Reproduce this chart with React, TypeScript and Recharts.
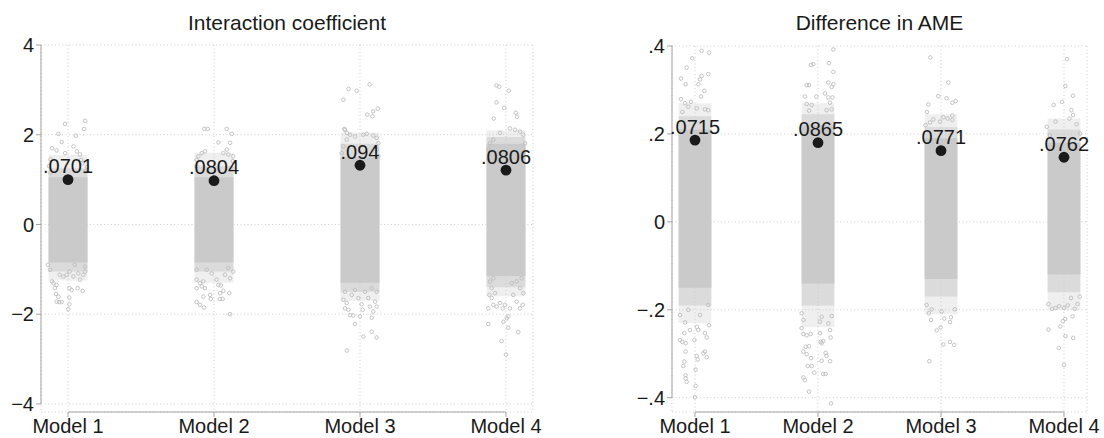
import { ScatterChart, Scatter, XAxis, YAxis, CartesianGrid, ReferenceArea, ReferenceLine, LabelList } from "recharts";

type Pt = [number, number];

const models = ["Model 1", "Model 2", "Model 3", "Model 4"];

// left panel: interaction coefficient
const coefLabels = [".0701", ".0804", ".094", ".0806"];
const coefEstimates = [1.0, 0.975, 1.32, 1.21];
// dense middle of each cloud, then the thinner bands around it
const coefCoreLow = [-0.85, -0.85, -1.3, -1.15];
const coefCoreHigh = [1.05, 1.05, 1.5, 1.8];
const coefMidLow = [-1.05, -1.05, -1.5, -1.4];
const coefMidHigh = [1.25, 1.3, 1.8, 1.95];
const coefSpreadLow = [-1.25, -1.3, -1.7, -1.6];
const coefSpreadHigh = [1.55, 1.6, 2.05, 2.1];
const coefYTicks = [-4, -2, 0, 2, 4];

const coefDraws1: Pt[] = [
  [-0.02, 2.24], [0.117, 2.31], [0.11, 2.13], [-0.066, 2.02], [0.053, 1.98], [-0.043, 1.84], [-0.11, 1.7], [-0.078, 1.65],
  [0.037, 1.74], [0.06, 1.63], [0.082, 1.56], [-0.02, 1.59], [0.09, 1.44], [0.1, 1.37], [-0.12, 1.45], [-0.13, 1.3],
  [0.13, 1.28], [0.12, 1.18], [-0.12, 1.15],
  [-0.123, -1.01], [-0.11, -1.27], [-0.1, -1.31], [-0.078, -1.35], [-0.09, -1.42], [-0.082, -1.55], [-0.066, -1.61],
  [-0.078, -1.72], [-0.06, -1.73], [-0.043, -1.73], [0.009, -1.63], [0.009, -1.78], [0.002, -1.89], [0.009, -1.42],
  [0.025, -1.46], [0.066, -1.42], [0.1, -1.48], [-0.032, -1.16], [-0.009, -1.12], [0.037, -1.16], [0.082, -1.23],
  [0.105, -1.12], [-0.057, -1.12], [0.07, -1.09], [0.011, -1.05], [0.117, -0.94], [-0.137, -0.9], [0.117, -1.05], [0.046, -0.9],
];
const coefDraws2: Pt[] = [
  [-0.066, 2.13], [-0.043, 2.13], [0.087, 2.13], [0.121, 2.02], [0.03, 1.83], [0.11, 1.82], [-0.084, 1.59], [-0.062, 1.63],
  [-0.107, 1.52], [0.087, 1.67], [0.064, 1.59], [0.132, 1.52], [0.098, 1.56], [-0.119, 1.44], [0.13, 1.41], [-0.12, 1.3], [0.125, 1.25],
  [-0.119, -1.01], [-0.119, -1.23], [-0.096, -1.31], [-0.073, -1.27], [-0.119, -1.42], [-0.084, -1.38], [-0.062, -1.42],
  [-0.073, -1.61], [-0.027, -1.57], [-0.023, -1.66], [-0.119, -1.73], [-0.096, -1.79], [-0.068, -1.85], [0.018, -1.23],
  [0.03, -1.35], [0.046, -1.36], [0.041, -1.53], [0.064, -1.48], [0.105, -1.53], [0.041, -1.66], [0.059, -1.66], [0.11, -2.0],
  [0.075, -1.12], [0.11, -1.2], [-0.016, -1.09], [-0.05, -1.01], [0.098, -0.97], [0.132, -1.05],
];
const coefDraws3: Pt[] = [
  [-0.114, 2.78], [-0.078, 3.02], [-0.023, 2.98], [0.066, 3.12], [0.05, 2.45], [0.09, 2.52], [0.122, 2.58], [0.086, 2.41],
  [-0.107, 2.13], [-0.09, 2.04], [-0.103, 2.11], [-0.068, 2.0], [-0.034, 1.96], [0.023, 2.0], [0.046, 2.02], [0.091, 1.98],
  [0.114, 1.93], [-0.091, 1.89], [0.126, 1.81], [-0.114, 1.74], [0.114, 1.67], [-0.126, 1.59], [0.126, 1.52],
  [-0.114, -1.68], [-0.091, -1.75], [-0.103, -1.87], [-0.08, -1.9], [-0.068, -2.02], [-0.046, -2.03], [-0.034, -2.22],
  [0, -2.05], [0.018, -1.9], [0.011, -1.78], [0.023, -2.5], [0.08, -2.39], [0.114, -2.52], [0.08, -2.08], [0.091, -1.94],
  [0.114, -1.83], [0.068, -1.83], [0.103, -1.72], [0.057, -1.64], [-0.011, -1.64], [-0.057, -1.57], [-0.103, -1.5],
  [0.114, -1.5], [0.034, -1.5], [-0.034, -1.46], [0.08, -1.42], [-0.09, -2.81],
];
const coefDraws4: Pt[] = [
  [-0.065, 3.1], [-0.046, 3.07], [0.019, 2.98], [-0.065, 2.72], [-0.012, 2.6], [0.067, 2.49], [0.075, 2.4], [-0.084, 2.36],
  [-0.041, 2.04], [0.027, 2.14], [0.062, 2.11], [0.096, 2.07], [0.119, 2.0], [-0.087, 1.89], [-0.11, 1.81], [-0.121, 1.67],
  [0.13, 1.81], [0.119, 1.59], [-0.121, 1.44],
  [-0.114, -1.57], [-0.098, -1.64], [-0.121, -1.87], [-0.087, -1.79], [-0.064, -1.83], [-0.041, -1.75], [-0.023, -1.87],
  [-0.007, -1.79], [0.027, -1.87], [0.073, -1.72], [0.096, -1.87], [0.114, -1.79], [0.119, -1.53], [0.096, -1.42],
  [-0.098, -1.42], [-0.075, -1.53], [0.05, -1.57], [-0.121, -2.22], [-0.018, -2.17], [0.005, -2.09], [0.016, -2.05],
  [0.016, -2.3], [0.084, -2.4], [-0.03, -2.6], [0, -2.9], [-0.087, -1.2], [0.073, -1.27], [-0.11, -1.27], [0.107, -1.2], [0.039, -1.31],
];

// right panel: difference in AME
const ameLabels = [".0715", ".0865", ".0771", ".0762"];
const ameEstimates = [0.186, 0.18, 0.162, 0.147];
const ameCoreLow = [-0.15, -0.14, -0.13, -0.12];
const ameCoreHigh = [0.21, 0.22, 0.19, 0.18];
const ameMidLow = [-0.19, -0.19, -0.17, -0.16];
const ameMidHigh = [0.24, 0.245, 0.215, 0.21];
const ameSpreadLow = [-0.23, -0.24, -0.21, -0.2];
const ameSpreadHigh = [0.27, 0.27, 0.245, 0.235];
const ameYTicks = [-0.4, -0.2, 0, 0.2, 0.4];

const ameDraws1: Pt[] = [
  [0.054, 0.389], [0.114, 0.385], [-0.022, 0.372], [-0.068, 0.351], [-0.114, 0.326], [-0.076, 0.313], [0.054, 0.332],
  [0.108, 0.336], [0.027, 0.313], [0.041, 0.324], [0.076, 0.298], [0.049, 0.285], [-0.114, 0.279], [-0.081, 0.27],
  [-0.033, 0.273], [-0.103, 0.25], [0.081, 0.256], [0.108, 0.254], [0.014, 0.258], [-0.054, 0.262],
  [-0.122, -0.212], [-0.081, -0.229], [-0.087, -0.253], [-0.122, -0.269], [-0.103, -0.273], [-0.076, -0.276],
  [-0.076, -0.295], [-0.087, -0.318], [-0.095, -0.328], [-0.076, -0.349], [-0.076, -0.356], [-0.068, -0.364],
  [0.005, -0.336], [0.005, -0.373], [0, -0.399], [0.014, -0.305], [0.022, -0.313], [0.081, -0.295], [0.095, -0.308],
  [0.068, -0.299], [-0.041, -0.246], [-0.005, -0.269], [0.027, -0.246], [0.095, -0.263], [0.081, -0.253], [0.114, -0.235],
  [0.014, -0.239], [0.108, -0.189], [-0.054, -0.2], [0.041, -0.212],
];
const ameDraws2: Pt[] = [
  [0.125, 0.392], [-0.057, 0.357], [-0.038, 0.359], [0.089, 0.361], [0.125, 0.341], [-0.092, 0.311], [-0.073, 0.311],
  [0.084, 0.317], [0.125, 0.313], [0.111, 0.307], [-0.106, 0.285], [-0.014, 0.285], [0.057, 0.292], [0.084, 0.283],
  [0.117, 0.283], [-0.092, 0.268], [-0.051, 0.266], [0.098, 0.271], [-0.073, 0.253], [0.07, 0.254], [0.111, 0.256],
  [-0.133, -0.208], [-0.119, -0.223], [-0.133, -0.242], [-0.119, -0.255], [-0.092, -0.258], [-0.06, -0.255],
  [-0.119, -0.295], [-0.092, -0.301], [-0.057, -0.31], [-0.073, -0.283], [-0.1, -0.284], [-0.084, -0.328], [-0.051, -0.328],
  [-0.119, -0.354], [-0.106, -0.36], [-0.073, -0.386], [-0.03, -0.343], [0.016, -0.253], [0.022, -0.273], [0.03, -0.276],
  [0.043, -0.271], [0.03, -0.316], [0.062, -0.298], [0.07, -0.305], [0.043, -0.346], [0.062, -0.346], [0.098, -0.317],
  [0.106, -0.413], [0.103, -0.263], [0.098, -0.246], [0.084, -0.231], [0.016, -0.227], [0.03, -0.216], [0.111, -0.214],
];
const ameDraws3: Pt[] = [
  [-0.087, 0.374], [0.06, 0.317], [-0.022, 0.286], [0.046, 0.281], [0.092, 0.271], [0.119, 0.275], [-0.103, 0.267],
  [-0.114, 0.25], [-0.062, 0.233], [-0.089, 0.226], [-0.008, 0.228], [0.019, 0.238], [0.054, 0.235], [0.092, 0.242],
  [0.092, 0.232], [-0.125, 0.22],
  [-0.117, -0.189], [-0.098, -0.208], [-0.081, -0.223], [-0.035, -0.247], [-0.003, -0.24], [-0.095, -0.317],
  [0.019, -0.279], [0.073, -0.273], [0.108, -0.28], [0.073, -0.228], [0.081, -0.217], [0.027, -0.22], [0.114, -0.199],
  [-0.076, -0.199], [0.005, -0.204],
];
const ameDraws4: Pt[] = [
  [0.025, 0.37], [0.011, 0.309], [0.074, 0.287], [-0.017, 0.273], [-0.084, 0.266], [0.06, 0.254], [0.074, 0.243],
  [-0.14, 0.216], [-0.069, 0.228], [0.102, 0.222], [0.045, 0.235], [-0.115, 0.197], [0.131, 0.201],
  [-0.126, -0.187], [-0.098, -0.198], [-0.069, -0.196], [-0.04, -0.192], [0, -0.196], [0.03, -0.19], [0.087, -0.198],
  [0.11, -0.187], [0.07, -0.215], [-0.126, -0.245], [-0.03, -0.238], [-0.01, -0.226], [0.01, -0.221], [-0.042, -0.287],
  [0.012, -0.26], [0.075, -0.264], [0, -0.325], [0.057, -0.173], [0.128, -0.17],
];

const FONT = "'Liberation Sans', Arial, Helvetica, sans-serif";
const INK = "#1a1a1a";
const AXIS = "#a3a3a3";
const CLOUD = "#bdbdbd";
const FILL = "#cacaca";
const HALF = 0.133; // half width of the jitter band

const fmtCoef = (v: number) => (v < 0 ? "\u2212" + Math.abs(v) : String(v));
const fmtAme = (v: number) => (v === 0 ? "0" : (v < 0 ? "\u2212" : "") + String(Math.abs(v)).replace(/^0/, ""));

interface PanelProps {
  left: number;
  title: string;
  labels: string[];
  estimates: number[];
  bands: { low: number[]; high: number[]; opacity: number }[];
  draws: Pt[][];
  yTicks: number[];
  yDomain: [number, number];
  xDomain: [number, number];
  top: number;
  yAxisWidth: number;
  marginRight: number;
  formatY: (v: number) => string;
}

function DrawShape(props: any) {
  return <circle cx={props.cx} cy={props.cy} r={1.8} fill="none" stroke={CLOUD} strokeWidth={0.9} />;
}

function EstimateShape(props: any) {
  return <circle cx={props.cx} cy={props.cy} r={5.4} fill={INK} />;
}

function Panel(p: PanelProps) {
  const width = 552;
  const height = 438;
  const drawData = p.draws.flatMap((pts, i) => pts.map(([o, v]) => ({ x: i + 1 + o, y: v })));
  const estData = p.estimates.map((v, i) => ({ x: i + 1, y: v, label: p.labels[i] }));
  const plotWidth = width - p.yAxisWidth - p.marginRight;

  return (
    <div style={{ position: "absolute", left: p.left, top: 0, width, height }}>
      <div
        style={{
          position: "absolute",
          left: p.yAxisWidth,
          width: plotWidth,
          top: 12,
          textAlign: "center",
          fontFamily: FONT,
          fontSize: 21,
          lineHeight: "21px",
          color: INK,
        }}
      >
        {p.title}
      </div>
      <ScatterChart width={width} height={height} margin={{ top: p.top, right: p.marginRight, bottom: 0, left: 0 }}>
        <CartesianGrid stroke="#cfcfcf" strokeDasharray="1 2.5" />
        <XAxis
          type="number"
          dataKey="x"
          domain={p.xDomain}
          allowDataOverflow
          ticks={[1, 2, 3, 4]}
          interval={0}
          tickFormatter={(v) => models[v - 1]}
          axisLine={false}
          tickLine={{ stroke: AXIS }}
          tickSize={5}
          height={26}
          tick={{ fontSize: 20, fill: INK, fontFamily: FONT }}
        />
        <YAxis
          type="number"
          dataKey="y"
          domain={p.yDomain}
          allowDataOverflow
          ticks={p.yTicks}
          interval={0}
          tickFormatter={p.formatY}
          axisLine={false}
          tickLine={{ stroke: AXIS }}
          tickSize={5}
          width={p.yAxisWidth}
          tick={{ fontSize: 20, fill: INK, fontFamily: FONT }}
        />
        {p.bands.map((b, j) =>
          models.map((m, i) => (
            <ReferenceArea
              key={m + j}
              x1={i + 1 - HALF}
              x2={i + 1 + HALF}
              y1={b.low[i]}
              y2={b.high[i]}
              fill={FILL}
              fillOpacity={b.opacity}
              stroke="none"
            />
          ))
        )}
        <ReferenceLine
          segment={[{ x: p.xDomain[0], y: p.yTicks[0] }, { x: p.xDomain[0], y: p.yTicks[p.yTicks.length - 1] }]}
          stroke={AXIS}
          ifOverflow="visible"
        />
        <ReferenceLine
          segment={[{ x: 1, y: p.yDomain[0] }, { x: 4, y: p.yDomain[0] }]}
          stroke={AXIS}
          ifOverflow="visible"
        />
        <Scatter data={drawData} shape={<DrawShape />} isAnimationActive={false} />
        <Scatter data={estData} shape={<EstimateShape />} isAnimationActive={false}>
          <LabelList dataKey="label" position="top" offset={2} fontSize={20} fill={INK} fontFamily={FONT} />
        </Scatter>
      </ScatterChart>
    </div>
  );
}

export default function App() {
  return (
    <div style={{ position: "absolute", left: 0, top: 0, width: 1104, height: 438, background: "#fff" }}>
      <Panel
        left={0}
        title="Interaction coefficient"
        labels={coefLabels}
        estimates={coefEstimates}
        bands={[
          { low: coefSpreadLow, high: coefSpreadHigh, opacity: 0.3 },
          { low: coefMidLow, high: coefMidHigh, opacity: 0.55 },
          { low: coefCoreLow, high: coefCoreHigh, opacity: 1 },
        ]}
        draws={[coefDraws1, coefDraws2, coefDraws3, coefDraws4]}
        yTicks={coefYTicks}
        yDomain={[-4.18, 4]}
        xDomain={[0.815, 4.185]}
        top={45}
        yAxisWidth={41}
        marginRight={19}
        formatY={fmtCoef}
      />
      <Panel
        left={552}
        title="Difference in AME"
        labels={ameLabels}
        estimates={ameEstimates}
        bands={[
          { low: ameSpreadLow, high: ameSpreadHigh, opacity: 0.3 },
          { low: ameMidLow, high: ameMidHigh, opacity: 0.55 },
          { low: ameCoreLow, high: ameCoreHigh, opacity: 1 },
        ]}
        draws={[ameDraws1, ameDraws2, ameDraws3, ameDraws4]}
        yTicks={ameYTicks}
        yDomain={[-0.4325, 0.4]}
        xDomain={[0.813, 4.187]}
        top={46}
        yAxisWidth={120}
        marginRight={17}
        formatY={fmtAme}
      />
    </div>
  );
}
